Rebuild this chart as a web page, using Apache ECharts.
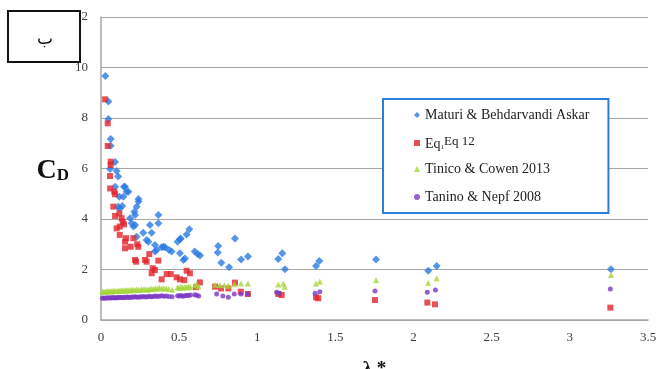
<!DOCTYPE html>
<html>
<head>
<meta charset="utf-8">
<script src="https://cdn.jsdelivr.net/npm/echarts@6/dist/echarts.min.js"></script>
<style>
  html, body { margin: 0; padding: 0; background: #fff; }
  #chart { width: 658px; height: 369px; }
</style>
</head>
<body>
<div id="chart"></div>
<script>
// axis ticks
const xTicks = [0, 0.5, 1, 1.5, 2, 2.5, 3, 3.5];
const yTicks = [0, 2, 4, 6, 8, 10, 12];

const seriesNames = ['Maturi & Behdarvandi Askar', 'Eq 12', 'Tinico & Cowen 2013', 'Tanino & Nepf 2008'];

// [lambda*, CD]
const maturi = [
  [0.028, 9.66], [0.047, 8.65], [0.047, 7.96], [0.062, 7.17], [0.062, 6.9], [0.058, 5.98],
  [0.09, 6.26], [0.1, 5.9], [0.11, 5.68], [0.09, 5.28], [0.12, 4.42], [0.136, 4.51],
  [0.143, 4.88], [0.147, 5.28], [0.164, 5.08], [0.154, 5.28], [0.175, 5.08], [0.117, 4.88],
  [0.11, 4.49], [0.186, 4.03], [0.196, 3.83], [0.213, 4.29], [0.218, 4.16], [0.218, 3.76],
  [0.228, 4.49], [0.228, 3.3], [0.24, 4.69], [0.24, 4.79], [0.207, 3.7], [0.27, 3.46],
  [0.292, 3.17], [0.303, 3.1], [0.313, 3.76], [0.324, 3.46], [0.345, 2.97], [0.345, 2.71],
  [0.356, 2.77], [0.367, 4.16], [0.367, 3.83], [0.388, 2.88], [0.4, 2.9], [0.41, 2.88],
  [0.435, 2.77], [0.452, 2.71], [0.49, 3.1], [0.505, 3.2], [0.51, 3.23], [0.505, 2.64],
  [0.527, 2.38], [0.537, 2.44], [0.548, 3.39], [0.565, 3.59], [0.6, 2.71], [0.618, 2.61],
  [0.633, 2.55], [0.747, 2.67], [0.75, 2.93], [0.77, 2.27], [0.82, 2.09], [0.857, 3.23],
  [0.896, 2.4], [0.94, 2.51], [1.134, 2.42], [1.16, 2.64], [1.177, 2.01], [1.376, 2.14],
  [1.397, 2.34], [1.76, 2.4], [2.094, 1.95], [2.148, 2.14], [3.263, 2.01]
];

const eq12 = [
  [0.026, 8.74], [0.043, 7.79], [0.043, 6.89], [0.062, 6.27], [0.062, 6.14], [0.058, 5.7],
  [0.058, 5.21], [0.085, 5.08], [0.09, 4.98], [0.079, 4.49], [0.09, 4.12], [0.117, 4.22],
  [0.132, 4.03], [0.139, 3.89], [0.147, 3.79], [0.1, 3.63], [0.12, 3.7], [0.12, 3.37],
  [0.16, 3.24], [0.154, 3.1], [0.207, 3.24], [0.19, 2.9], [0.154, 2.84], [0.232, 3.0],
  [0.239, 2.9], [0.218, 2.38], [0.224, 2.31], [0.282, 2.38], [0.292, 2.31], [0.309, 2.61],
  [0.367, 2.35], [0.331, 2.05], [0.345, 1.98], [0.324, 1.85], [0.388, 1.61], [0.42, 1.82],
  [0.446, 1.82], [0.484, 1.69], [0.505, 1.61], [0.533, 1.58], [0.548, 1.95], [0.569, 1.85],
  [0.633, 1.49], [0.608, 1.3], [0.73, 1.32], [0.768, 1.25], [0.815, 1.25], [0.857, 1.48],
  [0.894, 1.12], [0.94, 1.03], [1.156, 0.99], [1.134, 1.03], [1.376, 0.9], [1.39, 0.86],
  [1.753, 0.79], [2.088, 0.69], [2.137, 0.62], [3.259, 0.49]
];

// dense low-lambda band shared by the two reference curves
const bandLambda = [
  0.008, 0.017, 0.025, 0.034, 0.042, 0.051, 0.06, 0.068, 0.077, 0.085, 0.094, 0.103, 0.112,
  0.121, 0.13, 0.139, 0.148, 0.157, 0.166, 0.176, 0.186, 0.196, 0.206, 0.216, 0.227, 0.238,
  0.249, 0.26, 0.272, 0.284, 0.296, 0.308, 0.321, 0.334, 0.347, 0.36, 0.374, 0.388, 0.402,
  0.418, 0.434, 0.455, 0.49, 0.5, 0.512, 0.524, 0.536, 0.548, 0.56, 0.572, 0.6, 0.612, 0.625
];
const tinicoBand = [
  1.12, 1.13, 1.12, 1.14, 1.13, 1.15, 1.14, 1.13, 1.16, 1.15, 1.14, 1.16, 1.15, 1.17, 1.16,
  1.18, 1.16, 1.17, 1.19, 1.18, 1.17, 1.2, 1.19, 1.18, 1.21, 1.2, 1.19, 1.22, 1.21, 1.23,
  1.2, 1.22, 1.24, 1.23, 1.26, 1.25, 1.28, 1.24, 1.27, 1.25, 1.23, 1.2, 1.3, 1.27, 1.33,
  1.28, 1.31, 1.29, 1.34, 1.3, 1.38, 1.42, 1.33
];
const taninoBand = [
  0.86, 0.87, 0.86, 0.87, 0.88, 0.87, 0.88, 0.87, 0.89, 0.88, 0.87, 0.89, 0.88, 0.9, 0.89,
  0.88, 0.9, 0.89, 0.91, 0.9, 0.89, 0.91, 0.9, 0.92, 0.91, 0.9, 0.92, 0.91, 0.93, 0.91,
  0.92, 0.94, 0.92, 0.93, 0.95, 0.93, 0.94, 0.96, 0.94, 0.95, 0.93, 0.92, 0.96, 0.95, 0.97,
  0.94, 0.96, 0.98, 0.97, 0.99, 1.0, 0.98, 0.95
];

const tinicoLambda = [0.73, 0.76, 0.79, 0.815, 0.853, 0.896, 0.94, 1.134, 1.166, 1.176, 1.376, 1.4, 1.76, 2.094, 2.148, 3.263];
const tinicoCD = [1.4, 1.39, 1.38, 1.36, 1.42, 1.45, 1.45, 1.41, 1.45, 1.32, 1.45, 1.52, 1.58, 1.48, 1.65, 1.78];
const taninoLambda = [0.74, 0.78, 0.815, 0.853, 0.896, 0.94, 1.124, 1.14, 1.37, 1.4, 1.753, 2.088, 2.14, 3.259];
const taninoCD = [1.03, 0.95, 0.9, 1.03, 1.03, 1.03, 1.1, 1.06, 1.06, 1.12, 1.15, 1.1, 1.19, 1.23];

const zip = (xs, ys) => xs.map((x, i) => [x, ys[i]]);
const tinico = zip(bandLambda, tinicoBand).concat(zip(tinicoLambda, tinicoCD));
const tanino = zip(bandLambda, taninoBand).concat(zip(taninoLambda, taninoCD));

const serif = '"Liberation Serif", "DejaVu Serif", serif';
const chart = echarts.init(document.getElementById('chart'));

chart.setOption({
  backgroundColor: '#fff',
  animation: false,
  grid: { left: 101, right: 10, top: 17, bottom: 49, outerBoundsMode: 'none', containLabel: false },
  xAxis: {
    type: 'value',
    min: xTicks[0],
    max: xTicks[xTicks.length - 1],
    interval: 0.5,
    name: 'λ *',
    nameLocation: 'middle',
    nameGap: 40,
    nameTextStyle: { fontFamily: serif, fontSize: 19, fontWeight: 'bold', color: '#111' },
    axisLine: { lineStyle: { color: '#a6a6a6', width: 1.5 } },
    axisTick: { show: false },
    splitLine: { show: false },
    axisLabel: { fontFamily: serif, fontSize: 13, color: '#404040', margin: 11 }
  },
  yAxis: {
    type: 'value',
    min: yTicks[0],
    max: yTicks[yTicks.length - 1],
    interval: 2,
    name: '{c|C}{d|D}',
    nameLocation: 'middle',
    nameRotate: 0,
    nameGap: 32,
    nameTextStyle: {
      padding: [6, 0, 0, 0],
      rich: {
        c: { fontFamily: serif, fontSize: 28, fontWeight: 'bold', color: '#111', verticalAlign: 'bottom', lineHeight: 26 },
        d: { fontFamily: serif, fontSize: 17, fontWeight: 'bold', color: '#111', verticalAlign: 'bottom', lineHeight: 18 }
      }
    },
    axisLine: { show: true, lineStyle: { color: '#a6a6a6', width: 1.5 } },
    axisTick: { show: false },
    splitLine: { lineStyle: { color: '#a6a6a6', width: 1.2 } },
    axisLabel: { fontFamily: serif, fontSize: 13, color: '#404040', margin: 13 }
  },
  legend: {
    orient: 'vertical',
    left: 383,
    top: 99,
    padding: [6, 19, 6, 31],
    itemGap: 8,
    itemWidth: 6,
    itemHeight: 6,
    backgroundColor: '#fff',
    borderColor: '#2a7fd4',
    borderWidth: 2,
    data: seriesNames.map((n, i) => ({ name: n, icon: ['diamond', 'rect', 'triangle', 'circle'][i] })),
    formatter: name => name === 'Eq 12' ? '{base|Eq}{sub|1}{sup|Eq 12}' : name,
    textStyle: {
      fontFamily: serif,
      fontSize: 14,
      color: '#222',
      lineHeight: 20,
      rich: {
        base: { fontFamily: serif, fontSize: 14, color: '#222', lineHeight: 16, padding: [4, 0, 0, 0], verticalAlign: 'bottom' },
        sub: { fontFamily: serif, fontSize: 7, color: '#222', lineHeight: 8, verticalAlign: 'bottom' },
        sup: { fontFamily: serif, fontSize: 13, color: '#222', lineHeight: 13, verticalAlign: 'top' }
      }
    }
  },
  graphic: [
    {
      type: 'rect',
      z: 100,
      shape: { x: 8, y: 11, width: 72, height: 51 },
      style: { fill: '#fff', stroke: '#111', lineWidth: 2 }
    },
    {
      type: 'text',
      z: 101,
      x: 45,
      y: 40,
      style: { text: 'ب', fontFamily: '"DejaVu Sans", sans-serif', fontSize: 17, fill: '#111', align: 'center', verticalAlign: 'middle' }
    }
  ],
  series: [
    { name: seriesNames[0], type: 'scatter', symbol: 'diamond', symbolSize: 8, itemStyle: { color: '#2b7be4' }, data: maturi },
    { name: seriesNames[1], type: 'scatter', symbol: 'rect', symbolSize: 6, itemStyle: { color: '#e2242b' }, data: eq12 },
    { name: seriesNames[2], type: 'scatter', symbol: 'triangle', symbolSize: 6, itemStyle: { color: '#a5d63a' }, data: tinico },
    { name: seriesNames[3], type: 'scatter', symbol: 'circle', symbolSize: 5, itemStyle: { color: '#7a3ac4' }, data: tanino }
  ]
});
</script>
</body>
</html>
